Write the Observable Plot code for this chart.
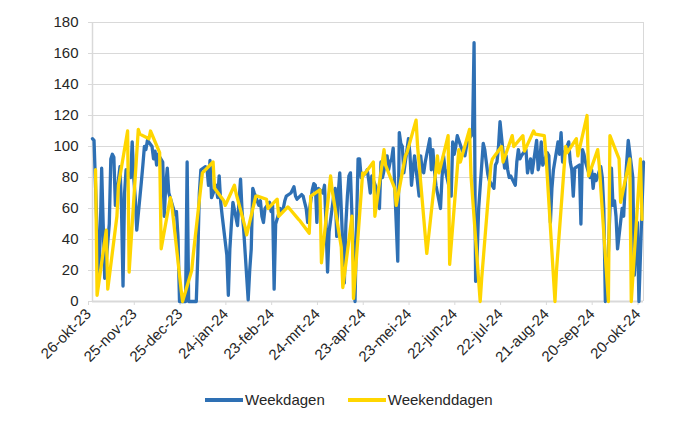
<!DOCTYPE html>
<html>
<head>
<meta charset="utf-8">
<script src="https://cdn.jsdelivr.net/npm/d3@7"></script>
<script src="https://cdn.jsdelivr.net/npm/@observablehq/plot@0.6"></script>
<style>
  body { margin: 0; background: #fff; font-family: "Liberation Sans", Arial, sans-serif; }
  #wrap { position: relative; width: 700px; height: 430px; }
  #legend { position: absolute; top: 391px; left: 205px; display: flex; align-items: center; font-size: 15px; color: #262626; }
  .sw { display: inline-block; width: 38px; height: 4px; margin-right: 2px; }
  .item { display: flex; align-items: center; margin-right: 23px; }
</style>
</head>
<body>
<div id="wrap">
  <div id="chart"></div>
  <div id="legend"></div>
</div>
<script>
// ---- data ----
const startDate = "2023-10-26";
const endDate = "2024-10-21";
const seriesNames = ["Weekdagen", "Weekenddagen"];
const seriesColors = ["#2e70b4", "#ffd600"];

// Weekdays (Mon-Fri) from Thu 26-okt-23 to Mon 21-okt-24, in order
const weekdayValues = [
  105, 104,                 // 26-27 okt
  15, 40, 86, 50, 15,       // 30 okt - 3 nov
  50, 92, 95, 93, 62,
  87, 60, 10, 70, 85,
  80, 103, 80, 67, 46,
  77, 88, 100, 98, 104,
  100, 92, 97, 88, 95,
  90, 55, 75, 86, 70,
  60, 56, 58, 42, 0,
  0, 0, 90, 0, 0,           // 25-29 dec
  0, 0, 30, 70, 85,
  87, 86, 75, 91, 67,
  75, 67, 81, 64, 55,
  30, 4, 34, 50, 64,
  49, 65, 79, 58, 47,
  1, 20, 34, 73, 70,        // 5-9 feb
  62, 65, 55, 51, 60,
  64, 58, 62, 8, 50,
  60, 58, 60, 65, 68,
  70, 72, 74, 68, 66,
  69, 68, 64, 60, 51,
  72, 76, 75, 51, 73,
  70, 75, 50, 19, 45,
  68, 73, 42, 70, 83,       // 1-5 apr
  12, 50, 68, 81, 83,
  0, 50, 92, 92, 80,
  83, 85, 78, 70, 81,
  73, 66, 60, 90, 80,
  94, 85, 90, 92, 99,       // 6-10 mei
  26, 109, 102, 100, 83,
  105, 95, 75, 85, 94,
  68, 94, 85, 83, 90,
  105, 85, 98, 85, 75,      // 3-7 jun
  60, 80, 94, 85, 81,
  68, 103, 95, 100, 107,
  98, 96, 94, 100, 104,
  108, 167, 13, 30, 60,     // 1-5 jul
  102, 98, 90, 82, 78,
  73, 88, 90, 100, 116,
  86, 94, 85, 80, 81,
  75, 90, 98, 92, 94,
  98, 83, 88, 92, 83,       // 5-9 aug
  104, 85, 90, 103, 88,
  96, 94, 51, 73, 85,
  103, 95, 109, 90, 95,
  103, 90, 85, 68, 86,      // 2-6 sep
  88, 50, 98, 95, 90,
  80, 85, 73, 82, 78,
  87, 80, 60, 0, 5,
  86, 62, 65, 55, 34,       // 30 sep - 4 okt
  60, 55, 75, 90, 104,
  80, 17, 35, 51, 0,
  90                        // 21 okt
];

// Weekend days (Sat, Sun) from 28-okt-23 to 20-okt-24, in order
const weekendValues = [
  85, 4,   46, 8,   55, 75,  110, 19,  111, 108,        // okt-nov
  105, 110, 96, 34,  67, 62,  8, 0,    20, 30,          // dec
  83, 84,  90, 73,  65, 62,  75, 70,                    // jan
  48, 43,  68, 68,  66, 60,  66, 55,                    // feb
  61, 60,  53, 52,  44, 68,  72, 25,  81, 72,           // mrt
  35, 9,   55, 2,   83, 82,  90, 55,                    // apr
  98, 88,  73, 62,  94, 96,  117, 100,                  // mei
  31, 40,  94, 83,  107, 24, 98, 90,  111, 81,          // jun
  0, 15,   88, 92,  100, 90, 107, 100,                  // jul
  107, 97, 110, 108, 107, 96, 0, 20,  100, 96,          // aug
  105, 94, 120, 81, 98, 88,  0, 107,                    // sep
  92, 64,  92, 0,   92, 53                              // okt
];

const yTicks = [0, 20, 40, 60, 80, 100, 120, 140, 160, 180];
const xTickDates = ["2023-10-26", "2023-11-25", "2023-12-25", "2024-01-24", "2024-02-23", "2024-03-24",
                    "2024-04-23", "2024-05-23", "2024-06-22", "2024-07-22", "2024-08-21", "2024-09-20", "2024-10-20"];
const xTickLabels = ["26-okt-23", "25-nov-23", "25-dec-23", "24-jan-24", "23-feb-24", "24-mrt-24",
                     "23-apr-24", "23-mei-24", "22-jun-24", "22-jul-24", "21-aug-24", "20-sep-24", "20-okt-24"];

// ---- build tables from the calendar ----
const allDays = d3.utcDay.range(new Date(startDate), d3.utcDay.offset(new Date(endDate), 1));
const weekdayDates = allDays.filter(d => d.getUTCDay() !== 0 && d.getUTCDay() !== 6);
const weekendDates = allDays.filter(d => d.getUTCDay() === 0 || d.getUTCDay() === 6);
if (weekdayDates.length !== weekdayValues.length) console.error("weekday mismatch", weekdayDates.length, weekdayValues.length);
if (weekendDates.length !== weekendValues.length) console.error("weekend mismatch", weekendDates.length, weekendValues.length);
const weekdayData = weekdayValues.map((v, i) => ({date: weekdayDates[i], value: v})).filter(d => d.date);
const weekendData = weekendValues.map((v, i) => ({date: weekendDates[i], value: v})).filter(d => d.date);

const tickDates = xTickDates.map(s => new Date(s));
const labelMap = new Map(tickDates.map((d, i) => [+d, xTickLabels[i]]));
const xDomain = [new Date(startDate), new Date(endDate)];
const grid = "#d9d9d9";

const chart = Plot.plot({
  width: 700,
  height: 380,
  marginLeft: 92,
  marginRight: 57,
  marginTop: 22,
  marginBottom: 79,
  style: {fontFamily: "'Liberation Sans', Arial, sans-serif", fontSize: "15px", color: "#262626", background: "white"},
  x: {type: "utc", domain: xDomain},
  y: {domain: [0, 180]},
  marks: [
    Plot.gridY(yTicks, {stroke: grid, strokeOpacity: 1, strokeWidth: 1}),
    Plot.ruleX([xDomain[1]], {stroke: grid, strokeWidth: 1}),
    Plot.ruleX([xDomain[0]], {stroke: grid, strokeWidth: 1.5}),
    Plot.axisY(yTicks, {tickSize: 4, tickPadding: 10, stroke: grid, fill: "#262626", label: null}),
    Plot.axisX(tickDates, {tickFormat: d => labelMap.get(+d), tickRotate: -45, tickSize: 4, tickPadding: 6,
                           dx: -4, stroke: grid, fill: "#262626", label: null}),
    Plot.ruleY([0], {stroke: grid, strokeWidth: 2}),
    Plot.lineY(weekdayData, {x: "date", y: "value", stroke: seriesColors[0], strokeWidth: 3.3}),
    Plot.lineY(weekendData, {x: "date", y: "value", stroke: seriesColors[1], strokeWidth: 3.3})
  ]
});
document.getElementById("chart").appendChild(chart);

// ---- legend ----
const legend = document.getElementById("legend");
seriesNames.forEach((name, i) => {
  const item = document.createElement("div");
  item.className = "item";
  const sw = document.createElement("span");
  sw.className = "sw";
  sw.style.background = seriesColors[i];
  const t = document.createElement("span");
  t.textContent = name;
  item.appendChild(sw);
  item.appendChild(t);
  legend.appendChild(item);
});
</script>
</body>
</html>
